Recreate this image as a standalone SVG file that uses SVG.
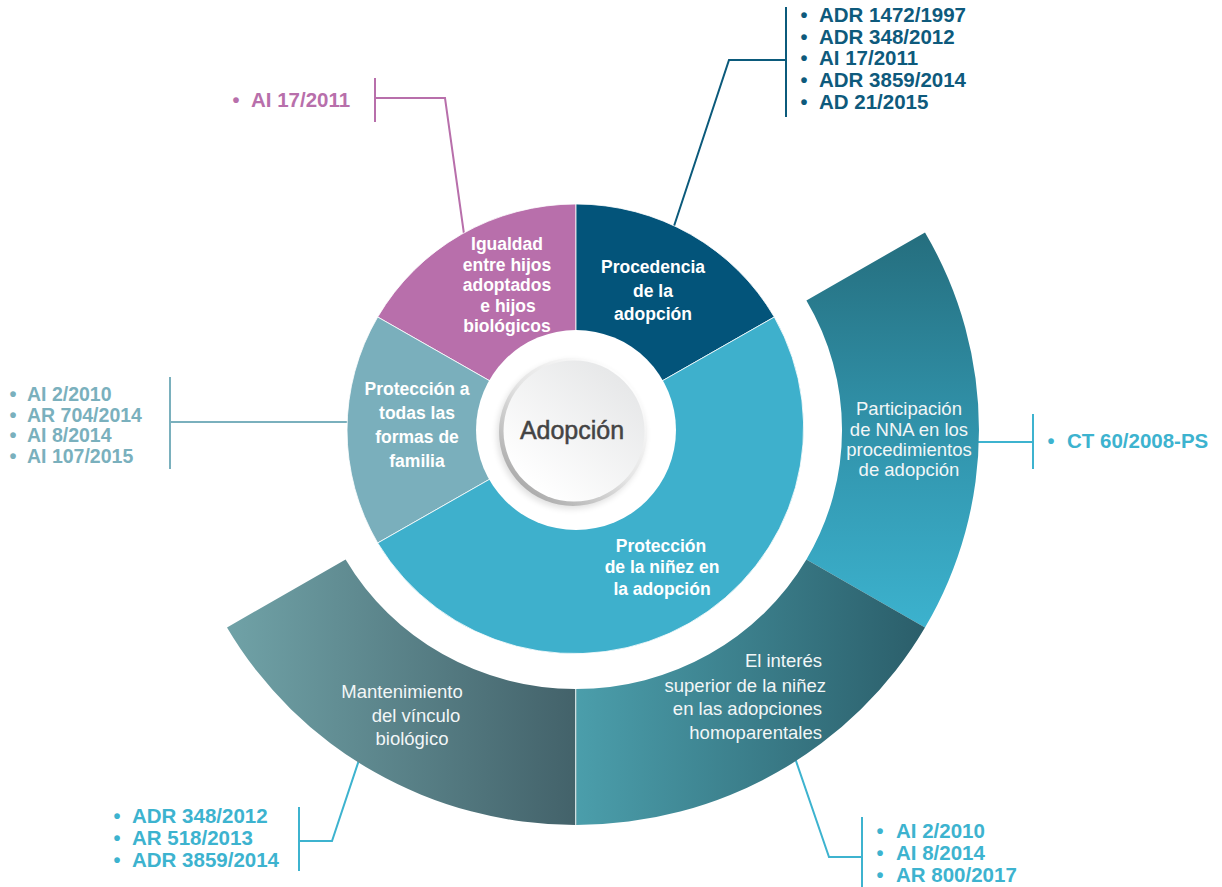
<svg xmlns="http://www.w3.org/2000/svg" width="1222" height="887" viewBox="0 0 1222 887">
<defs>
<linearGradient id="gPart" gradientUnits="userSpaceOnUse" x1="0" y1="232" x2="0" y2="628">
<stop offset="0" stop-color="#256e7e"/><stop offset="0.5" stop-color="#3193ab"/><stop offset="1" stop-color="#3cb2ce"/>
</linearGradient>
<linearGradient id="gInt" gradientUnits="userSpaceOnUse" x1="576" y1="0" x2="925" y2="0">
<stop offset="0" stop-color="#4b9eab"/><stop offset="1" stop-color="#2b5e6a"/>
</linearGradient>
<linearGradient id="gMant" gradientUnits="userSpaceOnUse" x1="227" y1="0" x2="576" y2="0">
<stop offset="0" stop-color="#70a2a7"/><stop offset="1" stop-color="#43626a"/>
</linearGradient>
<linearGradient id="gRim" x1="0.85" y1="0.1" x2="0.15" y2="0.9">
<stop offset="0" stop-color="#ffffff"/><stop offset="0.5" stop-color="#e4e4e4"/><stop offset="1" stop-color="#a9a9a9"/>
</linearGradient>
<linearGradient id="gFace" x1="0.85" y1="0.1" x2="0.2" y2="0.9">
<stop offset="0" stop-color="#e6e7e8"/><stop offset="1" stop-color="#ffffff"/>
</linearGradient>
<filter id="sh" x="-20%" y="-20%" width="140%" height="140%">
<feGaussianBlur stdDeviation="3"/>
</filter>
<style>
.wb{font-family:"Liberation Sans",Arial,sans-serif;font-weight:bold;font-size:17.5px;fill:#ffffff;text-anchor:middle}
.wr{font-family:"Liberation Sans",Arial,sans-serif;font-size:18.5px;fill:#f2f6f7}
.lst{font-family:"Liberation Sans",Arial,sans-serif;font-weight:bold;font-size:20.5px}
.lsm{font-family:"Liberation Sans",Arial,sans-serif;font-weight:bold;font-size:19.5px}
.bul{font-family:"Liberation Sans",Arial,sans-serif;font-weight:bold;font-size:20px;text-anchor:middle}
.ln{fill:none;stroke-width:2}
.seg{stroke:#ffffff;stroke-width:0.8}
</style>
</defs>
<rect width="1222" height="887" fill="#ffffff"/>

<g id="connectors">
<polyline class="ln" stroke="#0b5a7b" points="673.7,227 729,60 786,60"/>
<line class="ln" stroke="#0b5a7b" x1="786" y1="7" x2="786" y2="117"/>
<polyline class="ln" stroke="#b86fab" points="464,234 445,98 375,98"/>
<line class="ln" stroke="#b86fab" x1="375" y1="78" x2="375" y2="122"/>
<polyline class="ln" stroke="#7ab0bd" points="352,422 170,422"/>
<line class="ln" stroke="#7ab0bd" x1="170" y1="377" x2="170" y2="469"/>
<polyline class="ln" stroke="#3db3cf" points="975,442 1033,442"/>
<line class="ln" stroke="#3db3cf" x1="1033" y1="414" x2="1033" y2="469"/>
<polyline class="ln" stroke="#3db3cf" points="359,760 332,841 299,841"/>
<line class="ln" stroke="#3db3cf" x1="299" y1="807" x2="299" y2="871"/>
<polyline class="ln" stroke="#3db3cf" points="795,758 829,857 862,857"/>
<line class="ln" stroke="#3db3cf" x1="862" y1="817" x2="862" y2="887"/>
</g>

<g id="node-participacion">
<path d="M806.4,300.5 L925,232.5 A403,395 0 0 1 925,627.5 L806.4,559.5 A266,259 0 0 0 806.4,300.5 Z" fill="url(#gPart)"/>
<text class="wr" text-anchor="middle"><tspan x="909" y="415">Participación</tspan><tspan x="909" y="435.5">de NNA en los</tspan><tspan x="909" y="456">procedimientos</tspan><tspan x="909" y="476">de adopción</tspan></text>
</g>
<g id="node-interes">
<path d="M806.4,559.5 L925,627.5 A403,395 0 0 1 576,825 L576,689 A266,259 0 0 0 806.4,559.5 Z" fill="url(#gInt)"/>
<text class="wr" text-anchor="end"><tspan x="822" y="667">El interés</tspan><tspan x="826" y="691.5">superior de la niñez</tspan><tspan x="822" y="715">en las adopciones</tspan><tspan x="822" y="739">homoparentales</tspan></text>
</g>
<g id="node-mantenimiento">
<path d="M575,689 L575,825 A403,395 0 0 1 227,627.5 L345.6,559.5 A266,259 0 0 0 575,689 Z" fill="url(#gMant)"/>
<line x1="576" y1="689" x2="576" y2="825" stroke="#9fbcc0" stroke-width="1"/>
<text class="wr" text-anchor="middle"><tspan x="402" y="697.5">Mantenimiento</tspan><tspan x="416" y="721.5">del vínculo</tspan><tspan x="412" y="745">biológico</tspan></text>
</g>

<g id="node-igualdad">
<path class="seg" d="M576,430 L576,204 A229,226 0 0 0 377.7,317 Z" fill="#b86fab"/>
<text class="wb"><tspan x="507" y="250">Igualdad</tspan><tspan x="507" y="270.5">entre hijos</tspan><tspan x="507" y="291">adoptados</tspan><tspan x="508" y="311.5">e hijos</tspan><tspan x="507" y="332">biológicos</tspan></text>
</g>
<g id="node-procedencia">
<path class="seg" d="M576,430 L774.3,317 A229,226 0 0 0 576,204 Z" fill="#03547a"/>
<text class="wb"><tspan x="653" y="273">Procedencia</tspan><tspan x="653" y="297">de la</tspan><tspan x="653" y="320">adopción</tspan></text>
</g>
<g id="node-proteccion-familia">
<path class="seg" d="M576,430 L377.7,317 A229,226 0 0 0 377.7,543 Z" fill="#7aafbc"/>
<text class="wb"><tspan x="417" y="395">Protección a</tspan><tspan x="417" y="418.5">todas las</tspan><tspan x="417" y="443">formas de</tspan><tspan x="417" y="467">familia</tspan></text>
</g>
<g id="node-proteccion-ninez">
<path class="seg" d="M576,430 L377.7,543 A229,226 0 0 0 774.3,317 Z" fill="#3eb0cc"/>
<text class="wb"><tspan x="661" y="552">Protección</tspan><tspan x="662" y="573">de la niñez en</tspan><tspan x="662" y="595">la adopción</tspan></text>
</g>

<g id="node-adopcion">
<circle cx="576" cy="430" r="100" fill="#ffffff"/>
<circle cx="571" cy="435" r="74" fill="#000000" opacity="0.12" filter="url(#sh)"/>
<circle cx="573" cy="432" r="74" fill="url(#gRim)"/>
<circle cx="574" cy="431" r="70.5" fill="url(#gFace)"/>
<text x="572" y="439" font-family="Liberation Sans, Arial, sans-serif" font-size="25" fill="#444444" stroke="#444444" stroke-width="0.5" text-anchor="middle">Adopción</text>
</g>

<g id="list-procedencia" fill="#0e5a7c">
<text class="bul" x="804" y="22">•</text><text class="lst" x="819" y="22">ADR 1472/1997</text>
<text class="bul" x="804" y="43.5">•</text><text class="lst" x="819" y="43.5">ADR 348/2012</text>
<text class="bul" x="804" y="65">•</text><text class="lst" x="819" y="65">AI 17/2011</text>
<text class="bul" x="804" y="87">•</text><text class="lst" x="819" y="87">ADR 3859/2014</text>
<text class="bul" x="804" y="108.5">•</text><text class="lst" x="819" y="108.5">AD 21/2015</text>
</g>
<g id="list-igualdad" fill="#b86fab">
<text class="bul" x="236" y="107">•</text><text class="lst" x="251" y="107">AI 17/2011</text>
</g>
<g id="list-familia" fill="#7ab0bd">
<text class="bul" x="13" y="401">•</text><text class="lsm" x="27" y="401">AI 2/2010</text>
<text class="bul" x="13" y="421.5">•</text><text class="lsm" x="27" y="421.5">AR 704/2014</text>
<text class="bul" x="13" y="442">•</text><text class="lsm" x="27" y="442">AI 8/2014</text>
<text class="bul" x="13" y="462.5">•</text><text class="lsm" x="27" y="462.5">AI 107/2015</text>
</g>
<g id="list-participacion" fill="#3db3cf">
<text class="bul" x="1051" y="448">•</text><text class="lst" x="1067" y="448">CT 60/2008-PS</text>
</g>
<g id="list-mantenimiento" fill="#3db3cf">
<text class="bul" x="117" y="823">•</text><text class="lst" x="132" y="823">ADR 348/2012</text>
<text class="bul" x="117" y="845">•</text><text class="lst" x="132" y="845">AR 518/2013</text>
<text class="bul" x="117" y="867">•</text><text class="lst" x="132" y="867">ADR 3859/2014</text>
</g>
<g id="list-interes" fill="#3db3cf">
<text class="bul" x="880" y="838">•</text><text class="lst" x="896" y="838">AI 2/2010</text>
<text class="bul" x="880" y="860">•</text><text class="lst" x="896" y="860">AI 8/2014</text>
<text class="bul" x="880" y="881.5">•</text><text class="lst" x="896" y="881.5">AR 800/2017</text>
</g>
</svg>
